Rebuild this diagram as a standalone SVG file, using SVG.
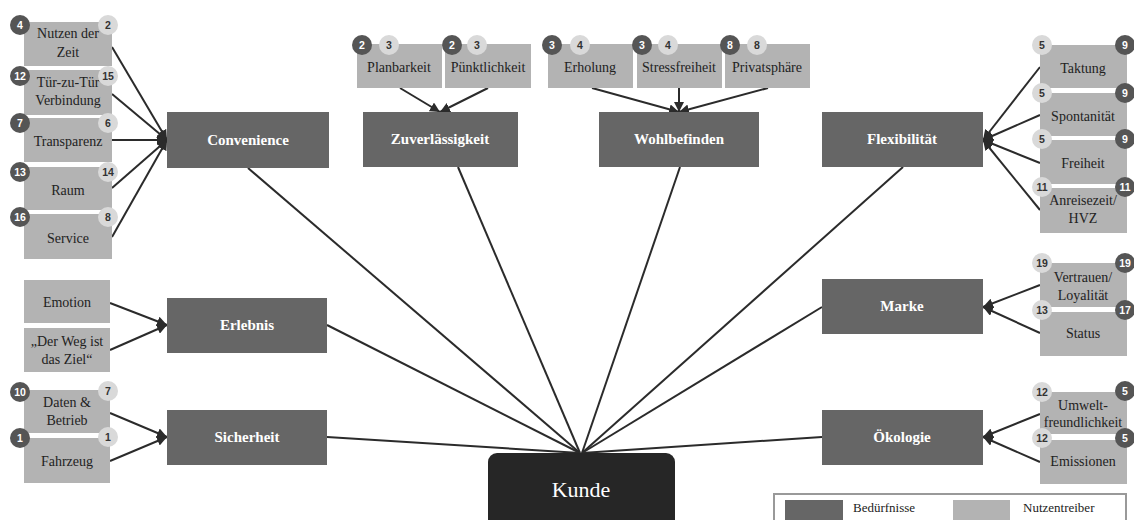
<svg xmlns="http://www.w3.org/2000/svg" width="1134" height="520" viewBox="0 0 1134 520">
<defs>
<marker id="arr" viewBox="0 0 10 10" refX="10" refY="5" markerWidth="5" markerHeight="5" orient="auto" markerUnits="strokeWidth">
<path d="M0,0 L10,5 L0,10 z" fill="#2b2b2b"/>
</marker>
<style>
.lb{fill:#b3b3b3;}
.db{fill:#666666;}
.lt{font-family:"Liberation Serif",serif;font-size:14px;fill:#222;text-anchor:middle;}
.dt{font-family:"Liberation Serif",serif;font-size:15px;font-weight:bold;fill:#fff;text-anchor:middle;}
.cd{fill:#555555;}
.cl{fill:#d9d9d9;}
.nd{font-family:"Liberation Sans",sans-serif;font-size:10.5px;font-weight:bold;fill:#fff;text-anchor:middle;}
.nl{font-family:"Liberation Sans",sans-serif;font-size:10.5px;font-weight:bold;fill:#333;text-anchor:middle;}
.ln{stroke:#2b2b2b;stroke-width:2;fill:none;}
.la{stroke:#2b2b2b;stroke-width:2;fill:none;marker-end:url(#arr);}
</style>
</defs>
<rect width="1134" height="520" fill="#fff"/>

<g id="connectors">
<line class="la" x1="112" y1="47" x2="167" y2="140"/>
<line class="la" x1="112" y1="94" x2="167" y2="140"/>
<line class="la" x1="112" y1="140" x2="167" y2="140"/>
<line class="la" x1="112" y1="188" x2="167" y2="140"/>
<line class="la" x1="112" y1="237" x2="167" y2="140"/>
<line class="la" x1="110" y1="303" x2="167" y2="325"/>
<line class="la" x1="110" y1="350" x2="167" y2="325"/>
<line class="la" x1="110" y1="413" x2="167" y2="437"/>
<line class="la" x1="110" y1="461" x2="167" y2="437"/>
<line class="la" x1="400" y1="88" x2="440" y2="112"/>
<line class="la" x1="488" y1="88" x2="440" y2="112"/>
<line class="la" x1="592" y1="88" x2="679" y2="112"/>
<line class="la" x1="679" y1="88" x2="679" y2="112"/>
<line class="la" x1="768" y1="88" x2="679" y2="112"/>
<line class="la" x1="1040" y1="67" x2="983" y2="140"/>
<line class="la" x1="1040" y1="115" x2="983" y2="140"/>
<line class="la" x1="1040" y1="163" x2="983" y2="140"/>
<line class="la" x1="1040" y1="210" x2="983" y2="140"/>
<line class="la" x1="1040" y1="285" x2="983" y2="307"/>
<line class="la" x1="1040" y1="333" x2="983" y2="307"/>
<line class="la" x1="1040" y1="414" x2="983" y2="437"/>
<line class="la" x1="1040" y1="462" x2="983" y2="437"/>
<line class="ln" x1="248" y1="168" x2="580" y2="453"/>
<line class="ln" x1="327" y1="325" x2="580" y2="453"/>
<line class="ln" x1="327" y1="437" x2="580" y2="453"/>
<line class="ln" x1="458" y1="167" x2="580" y2="453"/>
<line class="ln" x1="680" y1="167" x2="582" y2="453"/>
<line class="ln" x1="903" y1="167" x2="582" y2="453"/>
<line class="ln" x1="822" y1="307" x2="582" y2="453"/>
<line class="ln" x1="822" y1="437" x2="582" y2="453"/>
</g>

<g id="kunde">
<rect x="488" y="453" width="187" height="80" rx="9" fill="#262626"/>
<text x="581" y="497" font-family="Liberation Serif, serif" font-size="22" fill="#fff" text-anchor="middle">Kunde</text>
</g>

<g id="convenience"><rect class="db" x="167" y="112" width="162" height="56"/><text class="dt" x="248" y="145">Convenience</text></g>
<g id="erlebnis"><rect class="db" x="167" y="298" width="160" height="55"/><text class="dt" x="247" y="330">Erlebnis</text></g>
<g id="sicherheit"><rect class="db" x="167" y="410" width="160" height="55"/><text class="dt" x="247" y="442">Sicherheit</text></g>
<g id="zuverlaessigkeit"><rect class="db" x="363" y="112" width="155" height="55"/><text class="dt" x="440" y="144">Zuverlässigkeit</text></g>
<g id="wohlbefinden"><rect class="db" x="599" y="112" width="160" height="55"/><text class="dt" x="679" y="144">Wohlbefinden</text></g>
<g id="flexibilitaet"><rect class="db" x="822" y="112" width="161" height="55"/><text class="dt" x="902" y="144">Flexibilität</text></g>
<g id="marke"><rect class="db" x="822" y="279" width="161" height="55"/><text class="dt" x="902" y="311">Marke</text></g>
<g id="oekologie"><rect class="db" x="822" y="410" width="161" height="55"/><text class="dt" x="902" y="442">Ökologie</text></g>

<g id="nutzen-der-zeit"><rect class="lb" x="24" y="22" width="88" height="44"/><text class="lt" x="68" y="38">Nutzen der</text><text class="lt" x="68" y="57">Zeit</text>
<circle class="cd" cx="20" cy="25" r="10"/><text class="nd" x="20" y="29">4</text><circle class="cl" cx="108" cy="25" r="10"/><text class="nl" x="108" y="29">2</text></g>
<g id="tuer-zu-tuer"><rect class="lb" x="24" y="70" width="88" height="45"/><text class="lt" x="68" y="87">Tür-zu-Tür</text><text class="lt" x="68" y="105">Verbindung</text>
<circle class="cd" cx="20" cy="76" r="10"/><text class="nd" x="20" y="80">12</text><circle class="cl" cx="108" cy="76" r="10"/><text class="nl" x="108" y="80">15</text></g>
<g id="transparenz"><rect class="lb" x="24" y="118" width="88" height="44"/><text class="lt" x="68" y="146">Transparenz</text>
<circle class="cd" cx="20" cy="123" r="10"/><text class="nd" x="20" y="127">7</text><circle class="cl" cx="108" cy="123" r="10"/><text class="nl" x="108" y="127">6</text></g>
<g id="raum"><rect class="lb" x="24" y="167" width="88" height="43"/><text class="lt" x="68" y="195">Raum</text>
<circle class="cd" cx="20" cy="172" r="10"/><text class="nd" x="20" y="176">13</text><circle class="cl" cx="108" cy="172" r="10"/><text class="nl" x="108" y="176">14</text></g>
<g id="service"><rect class="lb" x="24" y="214" width="88" height="45"/><text class="lt" x="68" y="243">Service</text>
<circle class="cd" cx="20" cy="217" r="10"/><text class="nd" x="20" y="221">16</text><circle class="cl" cx="108" cy="217" r="10"/><text class="nl" x="108" y="221">8</text></g>

<g id="emotion"><rect class="lb" x="24" y="280" width="86" height="43"/><text class="lt" x="67" y="307">Emotion</text></g>
<g id="der-weg"><rect class="lb" x="24" y="328" width="86" height="44"/><text class="lt" x="67" y="346">„Der Weg ist</text><text class="lt" x="67" y="364">das Ziel“</text></g>

<g id="daten-betrieb"><rect class="lb" x="24" y="390" width="86" height="43"/><text class="lt" x="67" y="407">Daten &amp;</text><text class="lt" x="67" y="425">Betrieb</text>
<circle class="cd" cx="20" cy="392" r="10"/><text class="nd" x="20" y="396">10</text><circle class="cl" cx="108" cy="391" r="10"/><text class="nl" x="108" y="395">7</text></g>
<g id="fahrzeug"><rect class="lb" x="24" y="438" width="86" height="45"/><text class="lt" x="67" y="466">Fahrzeug</text>
<circle class="cd" cx="20" cy="438" r="10"/><text class="nd" x="20" y="442">1</text><circle class="cl" cx="108" cy="437" r="10"/><text class="nl" x="108" y="441">1</text></g>

<g id="planbarkeit"><rect class="lb" x="357" y="44" width="85" height="44"/><text class="lt" x="399" y="72">Planbarkeit</text>
<circle class="cd" cx="362" cy="45" r="10"/><text class="nd" x="362" y="49">2</text><circle class="cl" cx="389" cy="45" r="10"/><text class="nl" x="389" y="49">3</text></g>
<g id="puenktlichkeit"><rect class="lb" x="445" y="44" width="86" height="44"/><text class="lt" x="488" y="72">Pünktlichkeit</text>
<circle class="cd" cx="452" cy="45" r="10"/><text class="nd" x="452" y="49">2</text><circle class="cl" cx="477" cy="45" r="10"/><text class="nl" x="477" y="49">3</text></g>
<g id="erholung"><rect class="lb" x="548" y="44" width="85" height="44"/><text class="lt" x="590" y="72">Erholung</text>
<circle class="cd" cx="552" cy="45" r="10"/><text class="nd" x="552" y="49">3</text><circle class="cl" cx="580" cy="45" r="10"/><text class="nl" x="580" y="49">4</text></g>
<g id="stressfreiheit"><rect class="lb" x="637" y="44" width="85" height="44"/><text class="lt" x="679" y="72">Stressfreiheit</text>
<circle class="cd" cx="642" cy="45" r="10"/><text class="nd" x="642" y="49">3</text><circle class="cl" cx="668" cy="45" r="10"/><text class="nl" x="668" y="49">4</text></g>
<g id="privatsphaere"><rect class="lb" x="725" y="44" width="85" height="44"/><text class="lt" x="767" y="72">Privatsphäre</text>
<circle class="cd" cx="730" cy="45" r="10"/><text class="nd" x="730" y="49">8</text><circle class="cl" cx="757" cy="45" r="10"/><text class="nl" x="757" y="49">8</text></g>

<g id="taktung"><rect class="lb" x="1040" y="45" width="87" height="43"/><text class="lt" x="1083" y="73">Taktung</text>
<circle class="cl" cx="1042" cy="45" r="10"/><text class="nl" x="1042" y="49">5</text><circle class="cd" cx="1125" cy="45" r="10"/><text class="nd" x="1125" y="49">9</text></g>
<g id="spontanitaet"><rect class="lb" x="1040" y="93" width="87" height="43"/><text class="lt" x="1083" y="121">Spontanität</text>
<circle class="cl" cx="1042" cy="93" r="10"/><text class="nl" x="1042" y="97">5</text><circle class="cd" cx="1125" cy="93" r="10"/><text class="nd" x="1125" y="97">9</text></g>
<g id="freiheit"><rect class="lb" x="1040" y="140" width="87" height="44"/><text class="lt" x="1083" y="168">Freiheit</text>
<circle class="cl" cx="1042" cy="139" r="10"/><text class="nl" x="1042" y="143">5</text><circle class="cd" cx="1125" cy="139" r="10"/><text class="nd" x="1125" y="143">9</text></g>
<g id="anreisezeit"><rect class="lb" x="1040" y="188" width="87" height="45"/><text class="lt" x="1083" y="205">Anreisezeit/</text><text class="lt" x="1083" y="223">HVZ</text>
<circle class="cl" cx="1042" cy="187" r="10"/><text class="nl" x="1042" y="191">11</text><circle class="cd" cx="1125" cy="187" r="10"/><text class="nd" x="1125" y="191">11</text></g>

<g id="vertrauen"><rect class="lb" x="1040" y="263" width="87" height="44"/><text class="lt" x="1083" y="282">Vertrauen/</text><text class="lt" x="1083" y="300">Loyalität</text>
<circle class="cl" cx="1042" cy="263" r="10"/><text class="nl" x="1042" y="267">19</text><circle class="cd" cx="1125" cy="263" r="10"/><text class="nd" x="1125" y="267">19</text></g>
<g id="status"><rect class="lb" x="1040" y="312" width="87" height="44"/><text class="lt" x="1083" y="338">Status</text>
<circle class="cl" cx="1042" cy="310" r="10"/><text class="nl" x="1042" y="314">13</text><circle class="cd" cx="1125" cy="310" r="10"/><text class="nd" x="1125" y="314">17</text></g>

<g id="umweltfreundlichkeit"><rect class="lb" x="1040" y="392" width="87" height="42"/><text class="lt" x="1083" y="410">Umwelt-</text><text class="lt" x="1083" y="427">freundlichkeit</text>
<circle class="cl" cx="1042" cy="392" r="10"/><text class="nl" x="1042" y="396">12</text><circle class="cd" cx="1125" cy="391" r="10"/><text class="nd" x="1125" y="395">5</text></g>
<g id="emissionen"><rect class="lb" x="1040" y="440" width="87" height="44"/><text class="lt" x="1083" y="466">Emissionen</text>
<circle class="cl" cx="1042" cy="438" r="10"/><text class="nl" x="1042" y="442">12</text><circle class="cd" cx="1125" cy="438" r="10"/><text class="nd" x="1125" y="442">5</text></g>

<g id="legend">
<rect x="774" y="494" width="352" height="40" fill="#fff" stroke="#999" stroke-width="2"/>
<rect class="db" x="785" y="500" width="58" height="30"/>
<text x="853" y="512" font-family="Liberation Serif, serif" font-size="13" fill="#222">Bedürfnisse</text>
<rect class="lb" x="953" y="500" width="57" height="30"/>
<text x="1023" y="512" font-family="Liberation Serif, serif" font-size="13" fill="#222">Nutzentreiber</text>
</g>
</svg>
